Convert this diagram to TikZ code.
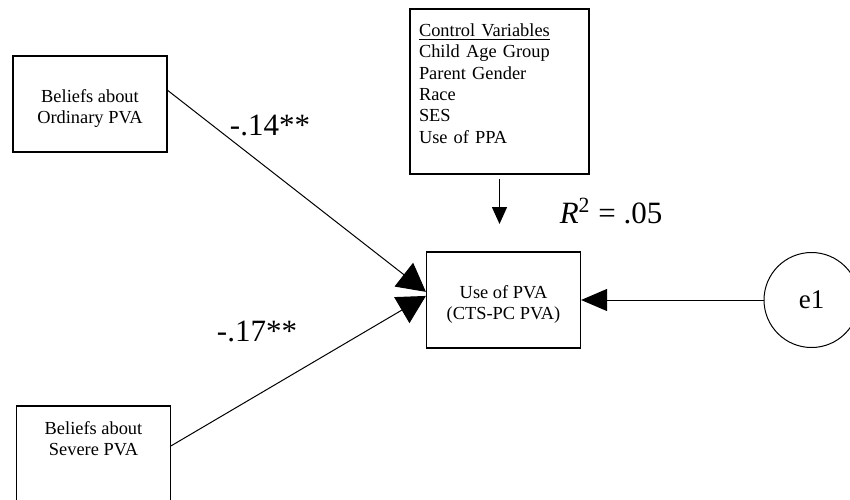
\documentclass[tikz,border=0pt]{standalone}
\usepackage{fontspec}
\setmainfont{Liberation Serif}
\usetikzlibrary{positioning,arrows.meta}

\begin{document}
\begin{tikzpicture}[
  x=0.5pt, y=-0.5pt,
  font=\fontsize{9.2}{10.5}\selectfont,
  box/.style={draw, line width=0.6pt, align=center, inner sep=0pt,
              minimum width=77pt, minimum height=48pt},
  ctrlbox/.style={draw, line width=1pt, align=left, inner xsep=4.5pt,
                  inner ysep=0pt, text width=80.5pt, minimum height=82.5pt,
                  font=\fontsize{9.2}{10.7}\selectfont},
  errnode/.style={draw, circle, line width=0.5pt, minimum size=47.5pt,
                  inner sep=0pt, font=\fontsize{13.5}{15}\selectfont},
  coef/.style={inner sep=0pt, font=\fontsize{15.5}{18}\selectfont},
  arr/.style={-{Triangle[length=14pt,width=15pt]}, line width=0.5pt},
  arrdown/.style={-{Triangle[length=8.5pt,width=7.5pt]}, line width=0.7pt},
  arrerr/.style={-{Triangle[length=13pt,width=11pt]}, line width=0.5pt}
]
\useasboundingbox (0,0) rectangle (850,499);
\clip (0,0) rectangle (850,499);
\node[box] (ord) at (90,104) {\rule{0pt}{11pt}Beliefs about\\ Ordinary PVA};
\node[box] (sev) at (93.5,454)
  {Beliefs about\\ Severe PVA\rule[-15pt]{0pt}{15pt}};
\node[box] (use) at (503.5,300) {\rule{0pt}{11pt}Use of PVA\\ (CTS-PC PVA)};
\node[ctrlbox, anchor=north] (ctrl) at (499.5,8)
  {\underline{Control Variables}\\ Child Age Group\\ Parent Gender\\
   Race\\ SES\\ Use of PPA\rule[-8pt]{0pt}{8pt}};
\node[errnode] (err) at (811.5,300) {e1};
\coordinate[below=24.5pt of ctrl.south] (ctrltip);
\node[coef] (bord) at (270,125) {-.14**};
\node[coef] (bsev) at (257,331) {-.17**};
\node[coef] (rsq) at (611,211) {\textit{R}\textsuperscript{2} = .05};
\draw[arr] (ord.10) -- (use.174);
\draw[arr] (sev.6) -- (use.177);
\draw[arrdown] ([yshift=-2pt]ctrl.south) -- (ctrltip);
\draw[arrerr] (err.west) -- (use.east);
\end{tikzpicture}
\end{document}
